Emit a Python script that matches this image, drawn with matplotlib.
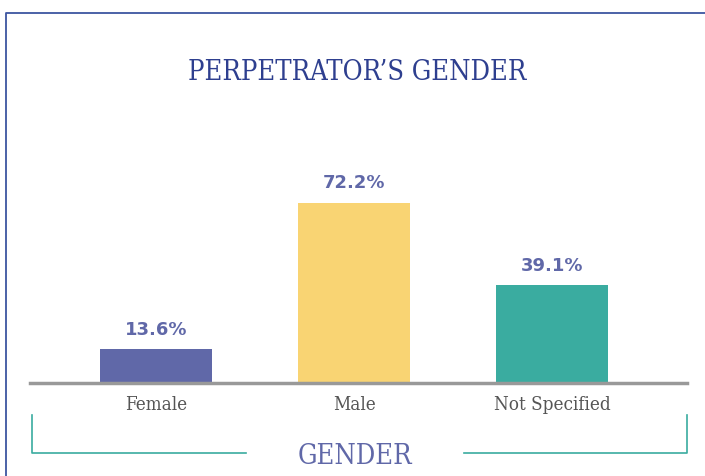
import matplotlib
matplotlib.use("Agg")
import matplotlib.pyplot as plt
from matplotlib.lines import Line2D

categories = ["Female", "Male", "Not Specified"]
values = [13.6, 72.2, 39.1]
bar_colors = ["#6068a8", "#f9d473", "#3aaca0"]

title_color = "#2e3f8f"
label_color = "#6068a8"
teal = "#3aaca0"

W, H = 705, 477
fig = plt.figure(figsize=(W / 100, H / 100), dpi=100)


def fx(px):
    return px / W


def fy(py):
    return 1 - py / H


# outer frame (left and top edges)
fig.add_artist(Line2D([fx(6), fx(6), fx(705)], [fy(477), fy(14), fy(14)],
                      color="#3d55a0", lw=1.3))

fig.text(fx(357), fy(72), "PERPETRATOR\u2019S GENDER", ha="center", va="center",
         color=title_color, fontsize=19.5, family="DejaVu Serif",
         fontstretch="condensed")

ax = fig.add_axes([fx(30), fy(384), fx(657), (384 - 150) / H])
x = list(range(len(categories)))
ax.bar(x, values, width=0.566, color=bar_colors)
for xi, v in zip(x, values):
    ax.annotate(f"{v}%", (xi, v), xytext=(0, 8), textcoords="offset points",
                ha="center", va="bottom", color=label_color,
                fontsize=13, fontweight="bold")

ax.set_xlim(-0.636, 2.68)
ax.set_ylim(0, 93.6)
ax.set_xticks(x, categories)
ax.tick_params(axis="x", length=0, pad=9, labelsize=13.5, labelcolor="#555555")
for lab in ax.get_xticklabels():
    lab.set_family("DejaVu Serif")
    lab.set_stretch("condensed")
ax.set_yticks([])
for side in ["top", "right", "left"]:
    ax.spines[side].set_visible(False)
ax.spines["bottom"].set_color("#999999")
ax.spines["bottom"].set_linewidth(2.5)

# bracket under the axis
fig.add_artist(Line2D([fx(32), fx(32), fx(246)], [fy(416), fy(454), fy(454)],
                      color=teal, lw=1.2))
fig.add_artist(Line2D([fx(464), fx(687), fx(687)], [fy(454), fy(454), fy(416)],
                      color=teal, lw=1.2))
fig.text(fx(355), fy(457), "GENDER", ha="center", va="center",
         color=label_color, fontsize=19.5, family="DejaVu Serif",
         fontstretch="condensed")

fig.savefig("out.png", dpi=100)
